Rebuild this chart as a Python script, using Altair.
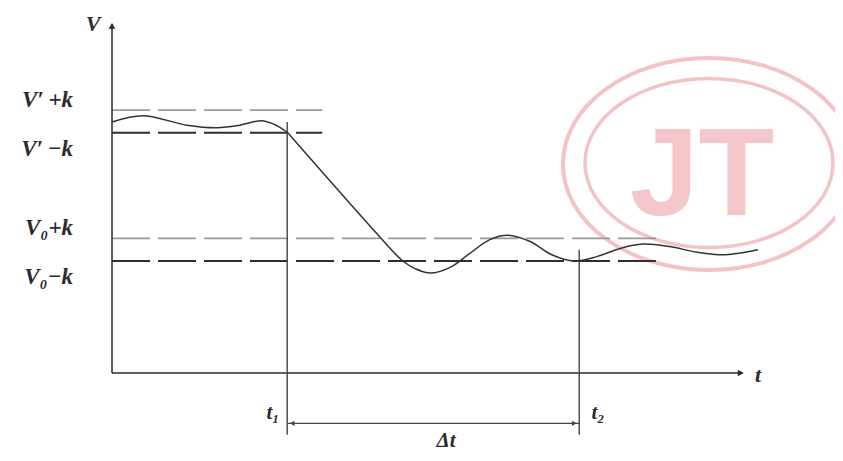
import altair as alt
import pandas as pd

# ---------------- data ----------------
# response curve, before t1 (segment a) and after t1 (segment b)
seg_a_t = [0.00, 0.53, 1.28, 1.80, 2.19, 2.57, 2.83, 3.01]
seg_a_v = [3.99, 4.09, 3.94, 3.90, 3.94, 4.01, 3.93, 3.82]
seg_b_t = [3.01, 4.59, 4.98, 5.19, 5.45, 5.79, 6.11, 6.47, 6.78, 7.16, 7.53, 7.91,
           8.30, 8.70, 9.09, 9.55, 10.02, 10.50, 11.06]
seg_b_v = [3.82, 2.16, 1.78, 1.66, 1.59, 1.68, 1.89, 2.12, 2.19, 2.09, 1.88, 1.78,
           1.85, 1.98, 2.05, 2.01, 1.92, 1.88, 1.96]

V_prime = 4.0
V_zero = 1.96
k = 0.18
t1 = 3.0
t2 = 8.0

band_levels = [V_prime + k, V_prime - k, V_zero + k, V_zero - k]
band_ends = [3.6, 3.6, 9.38, 9.38]
band_kind = ["plus", "minus", "plus", "minus"]
band_labels = ["V′\u2009+k", "V′\u2009−k", "V₀+k", "V₀−k"]

axis_t_end = 10.8
axis_v_end = 5.55
vline_bottom = -0.98
t2_top = 1.96
t1_top = 3.99
arrow_v = -0.80

# ---------------- scales ----------------
xs = alt.Scale(domain=[-1.781, 12.380], nice=False, zero=False)
ys = alt.Scale(domain=[-1.272, 5.803], nice=False, zero=False)

FONT = "Liberation Serif"
INK = "#2b2b2b"

curve_df = pd.DataFrame(
    {"t": seg_a_t + seg_b_t,
     "v": seg_a_v + seg_b_v,
     "seg": ["a"] * len(seg_a_t) + ["b"] * len(seg_b_t)}
)
band_df = pd.DataFrame({"v": band_levels, "t0": [0] * 4, "t1": band_ends,
                        "kind": band_kind, "label": band_labels})

# ---------------- watermark ----------------
def ellipse_path(r):
    c = 0.5523
    return (f"M 1 0 C 1 {c*r:.4f} {c:.4f} {r:.4f} 0 {r:.4f} "
            f"C {-c:.4f} {r:.4f} -1 {c*r:.4f} -1 0 "
            f"C -1 {-c*r:.4f} {-c:.4f} {-r:.4f} 0 {-r:.4f} "
            f"C {c:.4f} {-r:.4f} 1 {-c*r:.4f} 1 0 Z")

wm_df = pd.DataFrame({"w": [1]})
ring_outer = alt.Chart(wm_df).mark_point(
    shape=ellipse_path(0.726), size=292 ** 2, filled=False,
    stroke="#f3c3c6", strokeWidth=4, opacity=1
).encode(x=alt.value(701), y=alt.value(156))
ring_inner = alt.Chart(wm_df).mark_point(
    shape=ellipse_path(0.681), size=248 ** 2, filled=False,
    stroke="#f3c3c6", strokeWidth=3.5, opacity=1
).encode(x=alt.value(701), y=alt.value(155))
jt = alt.Chart(wm_df).mark_text(
    text="JT", font="Liberation Sans", fontWeight="bold", fontSize=124,
    color="#f4c8cb", align="center", baseline="alphabetic"
).encode(x=alt.value(694), y=alt.value(207))

# ---------------- dashed bands ----------------
bands = alt.Chart(band_df).mark_rule(strokeDash=[38, 8]).encode(
    x=alt.X("t0:Q", scale=xs, axis=None),
    x2="t1:Q",
    y=alt.Y("v:Q", scale=ys, axis=None),
    color=alt.Color("kind:N", scale=alt.Scale(domain=["plus", "minus"],
                                              range=["#9a9a9a", "#2f2f2f"]), legend=None),
    strokeWidth=alt.StrokeWidth("kind:N", scale=alt.Scale(domain=["plus", "minus"],
                                                          range=[1.6, 2.0]), legend=None),
)

label_style = dict(font=FONT, fontStyle="italic", fontWeight="bold", fontSize=23,
                   color=INK, align="right", baseline="middle")
labels_up = alt.Chart(band_df).transform_filter("datum.kind == 'plus'").mark_text(
    dy=-10, **label_style
).encode(x=alt.value(65), y=alt.Y("v:Q", scale=ys, axis=None), text="label:N")
labels_down = alt.Chart(band_df).transform_filter("datum.kind == 'minus'").mark_text(
    dy=16, **label_style
).encode(x=alt.value(65), y=alt.Y("v:Q", scale=ys, axis=None), text="label:N")

# ---------------- axes ----------------
ax_df = pd.DataFrame({"a": [0], "te": [axis_t_end], "ve": [axis_v_end]})
y_axis = alt.Chart(ax_df).mark_rule(color=INK, strokeWidth=1.5).encode(
    x=alt.X("a:Q", scale=xs, axis=None), y=alt.Y("a:Q", scale=ys, axis=None), y2="ve:Q")
x_axis = alt.Chart(ax_df).mark_rule(color=INK, strokeWidth=1.5).encode(
    x=alt.X("a:Q", scale=xs, axis=None), x2="te:Q", y=alt.Y("a:Q", scale=ys, axis=None))
y_head = alt.Chart(ax_df).mark_point(shape="triangle-up", filled=True, size=45,
                                     color=INK, opacity=1, yOffset=2).encode(
    x=alt.X("a:Q", scale=xs, axis=None), y=alt.Y("ve:Q", scale=ys, axis=None))
x_head = alt.Chart(ax_df).mark_point(shape="triangle-right", filled=True, size=45,
                                     color=INK, opacity=1, xOffset=-2).encode(
    x=alt.X("te:Q", scale=xs, axis=None), y=alt.Y("a:Q", scale=ys, axis=None))

# ---------------- t1 / t2 markers ----------------
vl_df = pd.DataFrame({"t": [t1, t2], "top": [t1_top, t2_top], "bot": [vline_bottom] * 2})
vlines = alt.Chart(vl_df).mark_rule(color="#444444", strokeWidth=1.4).encode(
    x=alt.X("t:Q", scale=xs, axis=None), y=alt.Y("top:Q", scale=ys, axis=None), y2="bot:Q")

dt_df = pd.DataFrame({"a": [t1], "b": [t2], "v": [arrow_v]})
dt_rule = alt.Chart(dt_df).mark_rule(color="#444444", strokeWidth=1.3).encode(
    x=alt.X("a:Q", scale=xs, axis=None), x2="b:Q", y=alt.Y("v:Q", scale=ys, axis=None))
dt_left = alt.Chart(dt_df).mark_point(shape="triangle-left", filled=True, size=28,
                                      color="#444444", opacity=1, xOffset=5).encode(
    x=alt.X("a:Q", scale=xs, axis=None), y=alt.Y("v:Q", scale=ys, axis=None))
dt_right = alt.Chart(dt_df).mark_point(shape="triangle-right", filled=True, size=28,
                                       color="#444444", opacity=1, xOffset=-5).encode(
    x=alt.X("b:Q", scale=xs, axis=None), y=alt.Y("v:Q", scale=ys, axis=None))

# ---------------- curve ----------------
curve = alt.Chart(curve_df).mark_line(color="#333333", strokeWidth=1.5,
                                      interpolate="catmull-rom").encode(
    x=alt.X("t:Q", scale=xs, axis=None),
    y=alt.Y("v:Q", scale=ys, axis=None),
    detail="seg:N",
)

# ---------------- annotation text ----------------
txt = dict(font=FONT, fontStyle="italic", fontWeight="bold", color=INK)
ann_df = pd.DataFrame({"a": [0]})
v_lbl = alt.Chart(ann_df).mark_text(text="V", fontSize=22, align="center",
                                    baseline="middle", **txt).encode(
    x=alt.value(85), y=alt.value(16))
t_lbl = alt.Chart(ann_df).mark_text(text="t", fontSize=22, align="center",
                                    baseline="middle", **txt).encode(
    x=alt.value(750), y=alt.value(367))
t1_lbl = alt.Chart(ann_df).mark_text(text="t₁", fontSize=21, align="center",
                                     baseline="middle", **txt).encode(
    x=alt.value(265), y=alt.value(405))
t2_lbl = alt.Chart(ann_df).mark_text(text="t₂", fontSize=21, align="center",
                                     baseline="middle", **txt).encode(
    x=alt.value(590), y=alt.value(405))
dt_lbl = alt.Chart(ann_df).mark_text(text="Δt", fontSize=21, align="center",
                                     baseline="alphabetic", **txt).encode(
    x=alt.value(438), y=alt.value(439))

chart = alt.layer(
    ring_outer, ring_inner, jt,
    bands, labels_up, labels_down,
    y_axis, x_axis, y_head, x_head,
    vlines, dt_rule, dt_left, dt_right,
    curve,
    v_lbl, t_lbl, t1_lbl, t2_lbl, dt_lbl,
).properties(
    width=827, height=445, padding=0,
    autosize=alt.AutoSizeParams(type="none"),
    background="white",
).configure_view(stroke=None)

chart.save("out.html", embed_options={"renderer": "svg", "actions": False})
